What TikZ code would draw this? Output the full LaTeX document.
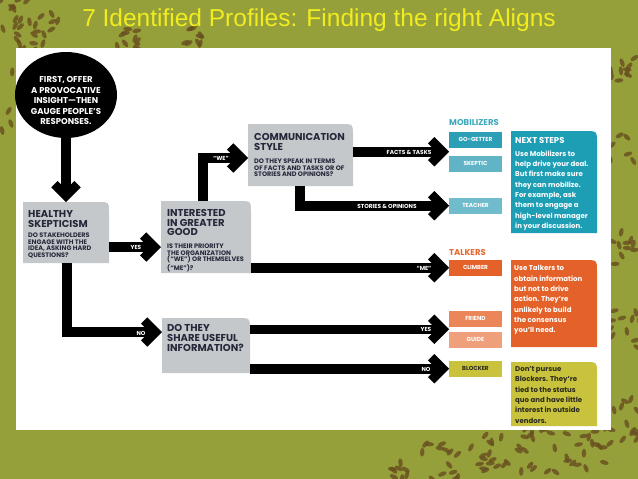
\documentclass[tikz,border=0pt]{standalone}
\usepackage{fontspec}
\setmainfont{Liberation Sans}
\newfontfamily\popfont{Poppins}
\usetikzlibrary{arrows.meta,calc,shapes.geometric}
\definecolor{bgolive}{RGB}{150,160,58}
\definecolor{leafc}{RGB}{104,78,32}
\definecolor{boxgray}{RGB}{196,200,203}
\definecolor{navy}{RGB}{38,40,58}
\definecolor{ttlyellow}{RGB}{240,236,32}
\definecolor{tealA}{RGB}{44,158,181}
\definecolor{tealB}{RGB}{96,180,198}
\definecolor{tealC}{RGB}{112,188,205}
\definecolor{tealD}{RGB}{30,158,181}
\definecolor{tealL}{RGB}{64,168,188}
\definecolor{orA}{RGB}{228,98,42}
\definecolor{orB}{RGB}{235,134,88}
\definecolor{orC}{RGB}{239,160,122}
\definecolor{orL}{RGB}{232,105,45}
\definecolor{olA}{RGB}{200,194,60}
\definecolor{oltext}{RGB}{43,42,30}
\newcommand\fhead{\popfont\bfseries\fontsize{10}{9.8}\selectfont}
\newcommand\fsub{\popfont\bfseries\fontsize{6.5}{6.8}\selectfont}
\newcommand\flab{\popfont\bfseries\fontsize{5.8}{6}\selectfont}
\newcommand\fbody{\popfont\bfseries\fontsize{7}{10.3}\selectfont}
\newcommand\fcat{\popfont\bfseries\fontsize{8.5}{9}\selectfont}
\newcommand\fcirc{\popfont\bfseries\fontsize{8.5}{10.5}\selectfont}
\begin{document}
\begin{tikzpicture}[x=1pt,y=-1pt,
  cbox/.style 2 args={anchor=north west, inner sep=0pt, outer sep=0pt,
    path picture={\fill[#1] (path picture bounding box.south west) -- (path picture bounding box.north west)
      -- ([xshift=-#2pt]path picture bounding box.north east) .. controls (path picture bounding box.north east) .. ([yshift=-#2pt]path picture bounding box.north east)
      -- (path picture bounding box.south east) -- cycle;}},
  sbox/.style={anchor=north west, inner sep=0pt, outer sep=0pt, fill=#1, minimum width=53pt, minimum height=15.5pt, font=\flab, text=white},
  conn/.style={line width=9.5pt, draw=black, -{Straight Barb[length=11.5pt,width=23pt,line width=9pt,sharp]}},
  head/.style={anchor=north west, inner sep=0pt, align=left, font=\fhead, text=navy},
  sub/.style={anchor=north west, inner sep=0pt, align=left, font=\fsub, text=navy},
  lbl/.style={inner sep=0pt, font=\flab, text=white},
  body/.style={anchor=north west, inner sep=0pt, align=left, font=\fbody, text=white},
  cat/.style={anchor=west, inner sep=0pt, font=\fcat},
  leaf/.style={fill=leafc, opacity=0.8}]
\useasboundingbox (0,0) rectangle (638,479);
\fill[bgolive] (0,0) rectangle (638,479);
% foliage of the backdrop: clusters of leaves
\pgfmathsetseed{11}
\foreach \cx/\cy/\n/\s in {10/20/18/22, 30/60/14/18, 8/110/14/22, 45/25/10/16, 130/40/10/14, 190/38/8/12,
    625/70/10/16, 628/150/10/18, 625/250/10/18, 630/330/12/20,
    440/462/14/18, 490/455/16/20, 540/450/18/22, 590/445/20/24, 625/420/16/22, 400/470/8/12}{
  \foreach \i in {1,...,\n}{
    \pgfmathsetmacro\px{\cx+\s*(2*rnd-1)}\pgfmathsetmacro\py{\cy+\s*(2*rnd-1)}\pgfmathsetmacro\pr{360*rnd}
    \fill[leaf, rotate around={\pr:(\px,\py)}] (\px,\py) ellipse (4.5pt and 2.2pt);}}
\fill[white] (16,48) rectangle (611,430);
\node[font=\fontsize{24.5}{26}\selectfont, text=ttlyellow, anchor=base, inner sep=0pt] (title) at (319,27) {7 Identified Profiles: Finding the right Aligns};

% start circle
\node[ellipse, fill=black, minimum width=102pt, minimum height=86pt, inner sep=0pt] (circ) at (66,95) {};
\node[align=center, font=\fcirc, text=white, inner sep=0pt] (circt) at (66,101) {FIRST, OFFER\\A PROVOCATIVE\\INSIGHT—THEN\\GAUGE PEOPLE’S\\RESPONSES.};

% gray question boxes
\node[cbox={boxgray}{10}, minimum width=86pt, minimum height=61pt] (hs) at (23,202) {};
\node[cbox={boxgray}{12}, minimum width=90pt, minimum height=72pt] (ig) at (161,201) {};
\node[cbox={boxgray}{12}, minimum width=105pt, minimum height=62pt] (cs) at (248,124) {};
\node[cbox={boxgray}{12}, minimum width=88pt, minimum height=55pt] (ds) at (162,318) {};

\node[head] (hsh) at (28,210) {HEALTHY\\SKEPTICISM};
\node[sub] (hss) at (28,232.5) {DO STAKEHOLDERS\\ENGAGE WITH THE\\IDEA, ASKING HARD\\QUESTIONS?};
\node[head] (igh) at (167,209) {INTERESTED\\IN GREATER\\GOOD};
\node[sub] (igs) at (167,243.5) {IS THEIR PRIORITY\\THE ORGANIZATION\\(“WE”) OR THEMSELVES\\(“ME”)?};
\node[head] (csh) at (254,133) {COMMUNICATION\\STYLE};
\node[sub] (css) at (254,158.5) {DO THEY SPEAK IN TERMS\\OF FACTS AND TASKS OR OF\\STORIES AND OPINIONS?};
\node[head] (dsh) at (167,324.5) {DO THEY\\SHARE USEFUL\\INFORMATION?};

% profile boxes
\node[cat, text=tealL] (mob) at (449,123) {MOBILIZERS};
\node[sbox=tealA] (gg) at (449,132) {GO-GETTER};
\node[sbox=tealB] (sk) at (449,156) {SKEPTIC};
\node[sbox=tealC] (te) at (449,198) {TEACHER};
\node[cat, text=orL] (tlk) at (449,253) {TALKERS};
\node[sbox=orA] (cl) at (449,260) {CLIMBER};
\node[sbox=orB] (fr) at (449,311) {FRIEND};
\node[sbox=orC] (gu) at (449,332) {GUIDE};
\node[sbox=olA, text=oltext] (bl) at (449,361) {BLOCKER};

% advice boxes
\node[cbox={tealD}{12}, minimum width=86pt, minimum height=102pt] (ns) at (511,131) {};
\node[anchor=north west, inner sep=0pt, font=\fcat, text=white] (nsh) at (515,137) {NEXT STEPS};
\node[body] (nsb) at (515,150.5) {Use Mobilizers to\\help drive your deal.\\But first make sure\\they can mobilize.\\For example, ask\\them to engage a\\high-level manager\\in your discussion.};
\node[cbox={orA}{12}, minimum width=86pt, minimum height=87pt] (tk) at (511,260) {};
\node[body] (tkb) at (514,265.5) {Use Talkers to\\obtain information\\but not to drive\\action. They’re\\unlikely to build\\the consensus\\you’ll need.};
\node[cbox={olA}{12}, minimum width=86pt, minimum height=64pt] (bt) at (511,362) {};
\node[body, text=oltext] (btb) at (515,366.5) {Don’t pursue\\Blockers. They’re\\tied to the status\\quo and have little\\interest in outside\\vendors.};

% connectors
\coordinate (gs) at ($(gg.south west)!0.5!(sk.north west)$);
\coordinate (fg) at ($(fr.south west)!0.5!(gu.north west)$);
\draw[conn] (circ.south) -- (circ.south |- hs.north);
\draw[conn] ([yshift=-45pt]hs.north east) -- ([yshift=-46pt]ig.north west);
\draw[conn] ([xshift=42pt]ig.north west) |- ([yshift=-34pt]cs.north west);
\draw[conn] (cs.east |- gs) -- (gs);
\draw[conn] ([xshift=52pt]cs.south west) |- (te.west);
\draw[conn] (ig.east |- cl.west) -- (cl.west);
\draw[conn] ([xshift=44pt]hs.south west) |- ([yshift=-14pt]ds.north west);
\draw[conn] (ds.east |- fg) -- (fg);
\draw[conn] (ds.east |- bl.west) -- (bl.west);

% connector labels
\node[lbl] (lwe) at (221,158) {“WE”};
\node[lbl] (lft) at (409,152) {FACTS \& TASKS};
\node[lbl] (lso) at (387,206) {STORIES \& OPINIONS};
\node[lbl] (ly1) at (136,247) {YES};
\node[lbl] (lme) at (424,268) {“ME”};
\node[lbl] (ln1) at (141,333) {NO};
\node[lbl] (ly2) at (426,329.5) {YES};
\node[lbl] (ln2) at (426,369) {NO};
\end{tikzpicture}
\end{document}
